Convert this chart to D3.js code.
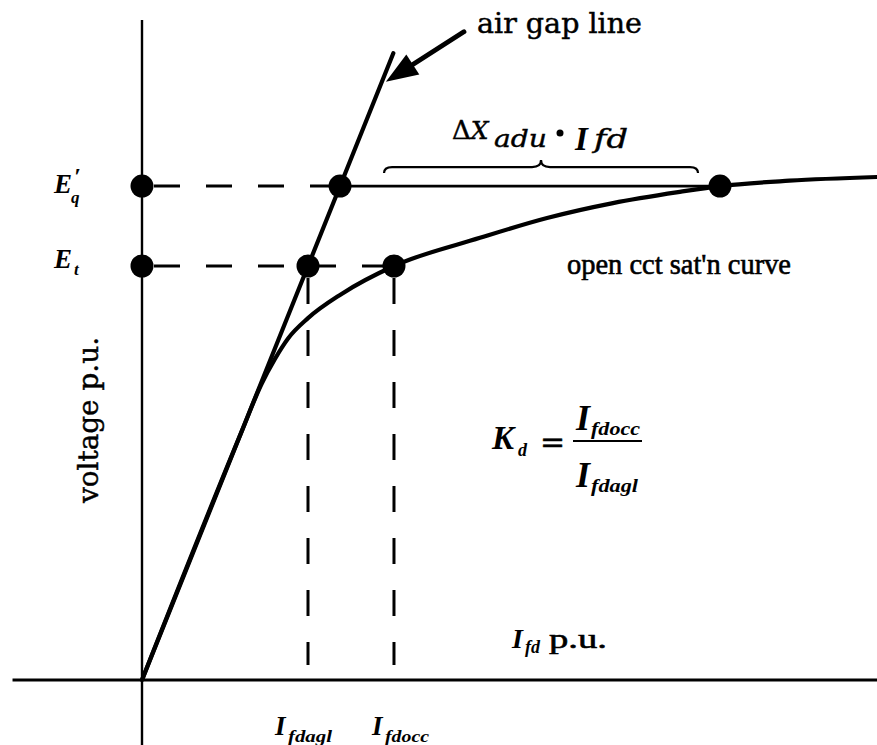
<!DOCTYPE html>
<html>
<head>
<meta charset="utf-8">
<script src="https://cdn.jsdelivr.net/npm/d3@7"></script>
<style>
  html, body { margin: 0; padding: 0; background: #fff; }
  svg { display: block; }
  .word { font-family: "DejaVu Serif", serif; fill: #000; stroke: #000; stroke-width: 0.45; }
  .wordt { font-family: "Liberation Serif", "Times New Roman", serif; fill: #000; stroke: #000; stroke-width: 0.6; }
  .math { font-family: "Liberation Serif", "Times New Roman", serif; font-style: italic; font-weight: bold; fill: #000; }
  .mathw { font-family: "DejaVu Serif", serif; font-style: italic; fill: #000; stroke: #000; stroke-width: 0.4; }
</style>
</head>
<body>
<svg id="chart" width="877" height="745"></svg>
<script>
// Open-circuit saturation curve: field current (p.u. of the air-gap current at E_t) vs voltage (p.u. of E_t)
const occCurrent = [0, 0.60, 0.72, 0.80, 0.88, 1.0, 1.20, 1.518, 2.036, 2.44, 2.837, 3.24, 3.482, 3.90, 4.43];
const occVoltage = [0, 0.60, 0.715, 0.775, 0.825, 0.874, 0.932, 1.0, 1.068, 1.116, 1.152, 1.179, 1.193, 1.206, 1.215];

// Air-gap line (straight, unsaturated)
const airGapCurrent = [0, 1.514];
const airGapVoltage = [0, 1.514];

// Voltage levels marked on the vertical axis: E'_q and E_t
const levelVoltage = [1.193, 1.0];

// Field currents of interest
const ifdAgl = 1.0;      // I_fdagl : air-gap line at E_t
const ifdOcc = 1.518;    // I_fdocc : saturation curve at E_t
const ifdEqAgl = 1.193;  // air-gap line at E'_q
const ifdEqOcc = 3.482;  // saturation curve at E'_q

// Highlighted points
const dotCurrent = [0, 0, ifdEqAgl, ifdAgl, ifdOcc, ifdEqOcc];
const dotVoltage = [1.193, 1.0, 1.193, 1.0, 1.0, 1.193];

const svg = d3.select("#chart");
const W = 877, H = 745;

const x = d3.scaleLinear().domain([0, 1]).range([142, 308]);
const y = d3.scaleLinear().domain([0, 1]).range([680, 266]);

// ---- axes (plain lines, no ticks) ----
svg.append("line")
  .attr("x1", x(0)).attr("x2", x(0))
  .attr("y1", y(1.594)).attr("y2", H)
  .attr("stroke", "#000").attr("stroke-width", 2.4);
svg.append("line")
  .attr("x1", x(-0.78)).attr("x2", W)
  .attr("y1", y(0)).attr("y2", y(0))
  .attr("stroke", "#000").attr("stroke-width", 3.2);

// ---- dashed guides ----
const dash = "26,26";
svg.append("line")
  .attr("x1", x(0)).attr("x2", x(ifdEqAgl))
  .attr("y1", y(levelVoltage[0])).attr("y2", y(levelVoltage[0]))
  .attr("stroke", "#000").attr("stroke-width", 3).attr("stroke-dasharray", dash)
  .attr("stroke-dashoffset", -12);
svg.append("line")
  .attr("x1", x(0)).attr("x2", x(ifdOcc))
  .attr("y1", y(levelVoltage[1])).attr("y2", y(levelVoltage[1]))
  .attr("stroke", "#000").attr("stroke-width", 3).attr("stroke-dasharray", dash)
  .attr("stroke-dashoffset", -12);
[ifdAgl, ifdOcc].forEach(c => {
  svg.append("line")
    .attr("x1", x(c)).attr("x2", x(c))
    .attr("y1", y(1.0)).attr("y2", y(0) - 15)
    .attr("stroke", "#000").attr("stroke-width", 3).attr("stroke-dasharray", dash)
    .attr("stroke-dashoffset", -12);
});

// ---- solid E'_q segment between air-gap line and saturation curve ----
svg.append("line")
  .attr("x1", x(ifdEqAgl)).attr("x2", x(ifdEqOcc))
  .attr("y1", y(levelVoltage[0])).attr("y2", y(levelVoltage[0]))
  .attr("stroke", "#000").attr("stroke-width", 2.8);

// ---- air-gap line ----
const line = d3.line().x(d => x(d[0])).y(d => y(d[1]));
svg.append("path")
  .datum(airGapCurrent.map((c, i) => [c, airGapVoltage[i]]))
  .attr("d", line)
  .attr("fill", "none").attr("stroke", "#000").attr("stroke-width", 4.2)
  .attr("stroke-linecap", "round");

// ---- saturation curve ----
const curve = d3.line().x(d => x(d[0])).y(d => y(d[1])).curve(d3.curveMonotoneX);
svg.append("path")
  .datum(occCurrent.map((c, i) => [c, occVoltage[i]]))
  .attr("d", curve)
  .attr("fill", "none").attr("stroke", "#000").attr("stroke-width", 4.2);

// ---- dots ----
svg.selectAll("circle.pt")
  .data(dotCurrent.map((c, i) => [c, dotVoltage[i]]))
  .join("circle")
  .attr("class", "pt")
  .attr("cx", d => x(d[0])).attr("cy", d => y(d[1]))
  .attr("r", 11.5).attr("fill", "#000");

// ---- arrow pointing at the air-gap line ----
const tipV = 1.445;
const tip = [x(tipV) + 4, y(tipV)];
const tail = [tip[0] + 78, tip[1] - 50];
const ang = Math.atan2(tail[1] - tip[1], tail[0] - tip[0]);
const headLen = 32, headHalf = 12;
const bx = tip[0] + headLen * Math.cos(ang), by = tip[1] + headLen * Math.sin(ang);
const px = -Math.sin(ang), py = Math.cos(ang);
svg.append("line")
  .attr("x1", tail[0]).attr("y1", tail[1]).attr("x2", bx).attr("y2", by)
  .attr("stroke", "#000").attr("stroke-width", 5).attr("stroke-linecap", "round");
svg.append("path")
  .attr("d", `M${tip[0]},${tip[1]} L${bx + px * headHalf},${by + py * headHalf} L${bx - px * headHalf},${by - py * headHalf} Z`)
  .attr("fill", "#000");

// ---- brace over the E'_q segment ----
const bx0 = x(ifdEqAgl) + 44, bx1 = x(ifdEqOcc) - 22, bm = (bx0 + bx1) / 2;
const by0 = y(levelVoltage[0]) - 19;
svg.append("path")
  .attr("d", `M${bx0},${by0 + 6} Q${bx0},${by0} ${bx0 + 8},${by0} L${bm - 9},${by0} Q${bm},${by0} ${bm},${by0 - 7} Q${bm},${by0} ${bm + 9},${by0} L${bx1 - 8},${by0} Q${bx1},${by0} ${bx1},${by0 + 6}`)
  .attr("fill", "none").attr("stroke", "#000").attr("stroke-width", 2.2);

// ---- word labels ----
function word(cls, txt, xp, yp, size, len, transform) {
  const t = svg.append("text").attr("class", cls)
    .attr("font-size", size).text(txt);
  if (transform) t.attr("transform", transform).attr("text-anchor", "middle");
  else t.attr("x", xp).attr("y", yp);
  if (len) t.attr("textLength", len).attr("lengthAdjust", "spacingAndGlyphs");
  return t;
}
word("word", "air gap line", 477, 33, 27, 165);
word("wordt", "open cct sat'n curve", 567, 274, 29, 224);
word("word", "voltage p.u.", 0, 0, 27, 166, "translate(98,420) rotate(-90)");

// ---- ΔX_adu · I_fd ----
function piece(cls, txt, xp, yp, size, len) {
  const t = svg.append("text").attr("class", cls).attr("x", xp).attr("y", yp)
    .attr("font-size", size).text(txt);
  if (len) t.attr("textLength", len).attr("lengthAdjust", "spacingAndGlyphs");
  return t;
}
const dX = svg.append("text").attr("x", 452).attr("y", 139);
dX.append("tspan").attr("class", "word").attr("font-size", 26).text("Δ");
dX.append("tspan").attr("class", "mathw").attr("font-size", 25).text("X");
piece("mathw", "adu", 494, 147, 25, 53);
svg.append("circle").attr("cx", 560).attr("cy", 133).attr("r", 3.5).attr("fill", "#000");
piece("math", "I", 575, 150, 33);
piece("mathw", "fd", 594, 148, 26, 34);

// ---- E'_q and E_t labels ----
piece("math", "E", 54, y(levelVoltage[0]) + 7, 27);
piece("math", "′", 74, y(levelVoltage[0]) - 2, 24);
piece("math", "q", 71, y(levelVoltage[0]) + 17, 17);
piece("math", "E", 54, y(levelVoltage[1]) + 2, 27);
piece("math", "t", 74, y(levelVoltage[1]) + 9, 17);

// ---- K_d = I_fdocc / I_fdagl ----
piece("math", "K", 492, 449, 33);
piece("math", "d", 518, 456, 18);
piece("word", "=", 540, 452, 30);
svg.append("line").attr("x1", 573).attr("x2", 642).attr("y1", 441).attr("y2", 441)
  .attr("stroke", "#000").attr("stroke-width", 2.2);
piece("math", "I", 576, 430, 36);
piece("math", "fdocc", 591, 435, 19, 49);
piece("math", "I", 576, 487, 36);
piece("math", "fdagl", 591, 492, 19, 47);

// ---- current axis label ----
piece("math", "I", 512, 648, 28);
piece("math", "fd", 525, 653, 18);
piece("wordt", "p.u.", 549, 648, 28, 58);

// ---- current labels under the axis ----
[[ifdAgl, "fdagl", -33], [ifdOcc, "fdocc", -22]].forEach(([c, sub, off]) => {
  piece("math", "I", x(c) + off, 735, 27);
  piece("math", sub, x(c) + off + 13, 742, 17, 44);
});
</script>
</body>
</html>
